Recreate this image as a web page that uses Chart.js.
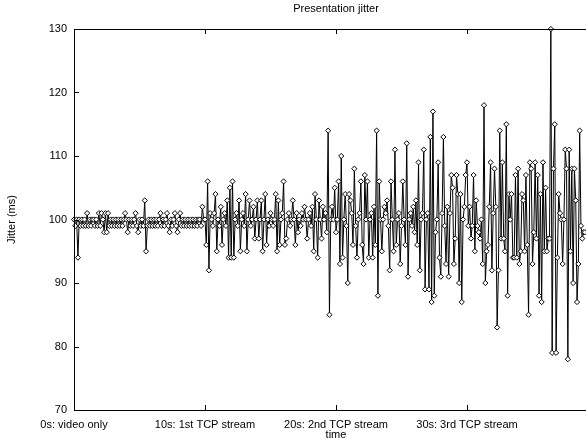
<!DOCTYPE html>
<html>
<head>
<meta charset="utf-8">
<title>Presentation jitter</title>
<script src="https://cdn.jsdelivr.net/npm/chart.js@4/dist/chart.umd.min.js"></script>
<style>
  html, body { margin: 0; padding: 0; background: #fff; overflow: hidden; }
  canvas { display: block; }
</style>
</head>
<body>
<canvas id="jitter" width="606" height="446"></canvas>
<script>
// jitter values (ms), one sample every 0.1 s, split per 10 s phase
const sampleStep = 0.1;

const jitterVideoOnly = [
  100,99,100,94,100,99,100,99,100,99,
  101,99,100,99,100,100,99,100,99,101,
  99,101,100,98,101,98,101,99,100,99,
  100,99,100,99,100,99,100,99,100,101,
  100,98,100,99,100,99,100,101,99,98,
  100,99,100,99,103,95,99,100,99,100,
  99,100,99,100,99,100,101,99,100,99,
  100,101,99,98,100,99,100,101,99,98,
  100,101,99,100,99,100,99,100,99,100,
  99,100,99,100,99,100,100,99,102,100
];

const jitter1stTcp = [
  100,96,106,92,101,100,99,101,104,95,
  100,99,102,96,100,101,99,103,94,105,
  94,106,94,100,101,99,103,95,100,101,
  99,104,95,100,103,99,100,102,97,100,
  103,97,100,103,95,100,104,96,100,99,
  101,100,99,100,104,95,103,96,100,101,
  106,96,97,100,101,99,100,103,100,96,
  101,98,100,99,101,100,102,100,97,100,
  101,99,102,95,104,100,94,103,100,97,
  102,100,101,98,114,85,100,102,100,105
];

const jitter2ndTcp = [
  98,100,106,93,110,94,100,104,99,90,
  104,103,101,96,108,99,94,100,101,106,
  96,93,107,100,106,94,100,101,94,102,
  96,114,88,106,100,95,100,102,101,103,
  99,92,106,100,95,111,96,100,101,93,
  99,106,100,96,112,91,100,101,99,102,
  98,103,96,109,92,100,101,111,89,100,
  101,89,113,87,117,88,98,100,109,94,
  91,101,113,99,93,102,91,101,107,105,
  93,97,107,104,90,104,87,100,102,107
];

const jitter3rdTcp = [
  109,99,102,97,99,107,95,103,99,98,
  97,100,93,118,90,95,96,102,109,92,
  101,108,102,83,92,114,97,109,97,95,
  115,88,104,100,104,94,94,107,94,108,
  93,95,104,103,95,107,96,85,109,108,
  93,98,109,97,107,88,104,87,109,95,
  105,95,97,97,130,79,108,115,79,94,
  104,101,100,93,100,111,108,78,111,95,
  108,90,108,103,87,93,114,99,97,98,
  98
];

const xTickLabels = ['0s: video only', '10s: 1st TCP stream', '20s: 2nd TCP stream', '30s: 3rd TCP stream'];
const yTicks = [70, 80, 90, 100, 110, 120, 130];

const allJitter = [].concat(jitterVideoOnly, jitter1stTcp, jitter2ndTcp, jitter3rdTcp);
const points = allJitter.map((v, i) => ({ x: i * sampleStep, y: v }));

const fontFamily = '"Liberation Sans", Arial, Helvetica, sans-serif';

// gnuplot style frame, inward ticks and title
const framePlugin = {
  id: 'frame',
  afterDraw(chart) {
    const ctx = chart.ctx;
    const a = chart.chartArea;
    const xs = chart.scales.x, ys = chart.scales.y;
    ctx.save();
    ctx.strokeStyle = '#000';
    ctx.lineWidth = 1;
    ctx.strokeRect(Math.round(a.left) + 0.5, Math.round(a.top) + 0.5,
      Math.round(a.right - a.left), Math.round(a.bottom - a.top));
    ctx.beginPath();
    xs.ticks.forEach(t => {
      const px = Math.round(xs.getPixelForValue(t.value)) + 0.5;
      ctx.moveTo(px, a.bottom); ctx.lineTo(px, a.bottom - 5);
      ctx.moveTo(px, a.top); ctx.lineTo(px, a.top + 5);
    });
    ys.ticks.forEach(t => {
      const py = Math.round(ys.getPixelForValue(t.value)) + 0.5;
      ctx.moveTo(a.left, py); ctx.lineTo(a.left + 5, py);
      ctx.moveTo(a.right, py); ctx.lineTo(a.right - 5, py);
    });
    ctx.stroke();
    ctx.fillStyle = '#000';
    ctx.font = '11px ' + fontFamily;
    ctx.textAlign = 'center';
    ctx.textBaseline = 'middle';
    ctx.fillText('Presentation jitter', (a.left + a.right) / 2, 8.5);
    ctx.restore();
  }
};

new Chart(document.getElementById('jitter'), {
  type: 'line',
  data: {
    datasets: [{
      data: points,
      borderColor: '#000',
      borderWidth: 1,
      pointStyle: 'rectRot',
      pointRadius: 2.6,
      pointBorderWidth: 1,
      pointBorderColor: '#000',
      pointBackgroundColor: '#fff',
      tension: 0,
      clip: false
    }]
  },
  plugins: [framePlugin],
  options: {
    responsive: false,
    animation: false,
    events: [],
    layout: { padding: { top: 29, right: 8, left: 0, bottom: 0 } },
    plugins: {
      legend: { display: false },
      tooltip: { enabled: false },
      title: { display: false }
    },
    scales: {
      x: {
        type: 'linear',
        min: 0,
        max: 40,
        grid: { display: false, drawTicks: false },
        border: { display: false },
        afterFit(scale) { scale.height = 36; },
        afterBuildTicks(scale) {
          scale.ticks = [0, 10, 20, 30, 40].map(v => ({ value: v }));
        },
        ticks: {
          autoSkip: false,
          maxRotation: 0,
          padding: 8,
          color: '#000',
          font: { family: fontFamily, size: 11 },
          callback: (v) => xTickLabels[Math.round(v / 10)] || ''
        },
        title: {
          display: true,
          text: 'time',
          color: '#000',
          font: { family: fontFamily, size: 11 },
          padding: { top: 0, bottom: 4 }
        }
      },
      y: {
        min: 70,
        max: 130,
        grid: { display: false, drawTicks: false },
        border: { display: false },
        afterFit(scale) { scale.width = 74; },
        afterBuildTicks(scale) {
          scale.ticks = yTicks.map(v => ({ value: v }));
        },
        ticks: {
          padding: 7,
          color: '#000',
          font: { family: fontFamily, size: 11 }
        },
        title: {
          display: true,
          text: 'Jitter (ms)',
          color: '#000',
          font: { family: fontFamily, size: 11 },
          padding: { top: 5, bottom: 0 }
        }
      }
    }
  }
});
</script>
</body>
</html>
